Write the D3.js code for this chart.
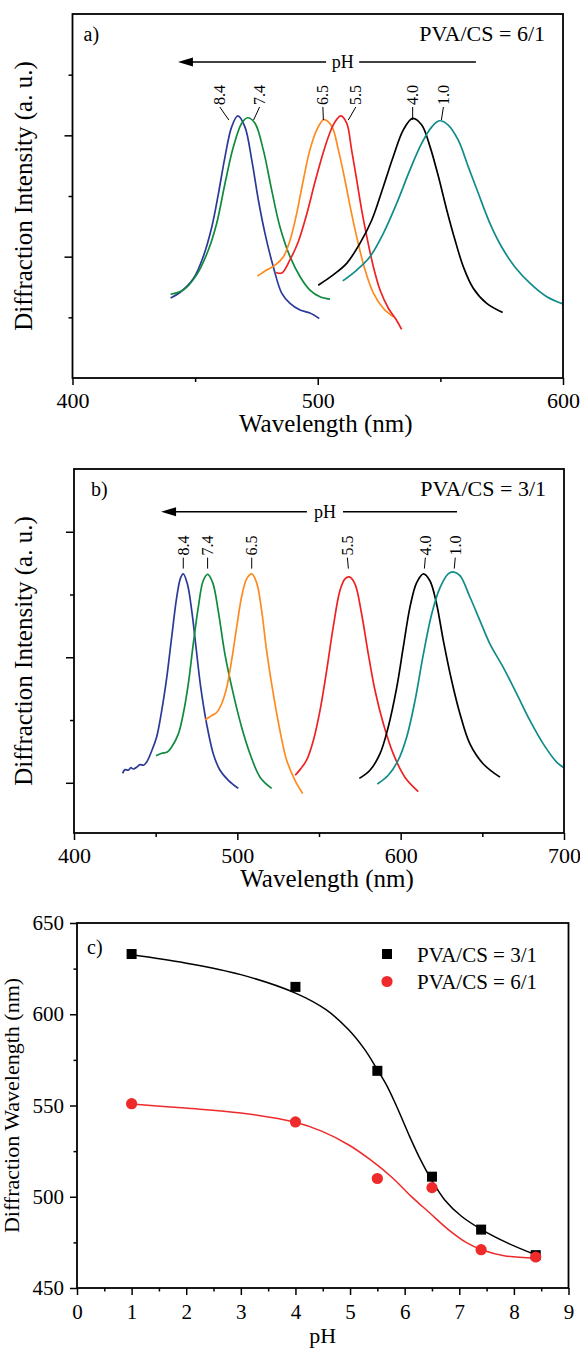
<!DOCTYPE html>
<html>
<head>
<meta charset="utf-8">
<script src="https://cdn.jsdelivr.net/npm/d3@7"></script>
<style>
  body { margin: 0; background: #fff; }
  svg { display: block; }
  text { font-family: "Liberation Serif", "Times New Roman", serif; fill: #000; }
</style>
</head>
<body>
<svg id="chart" width="580" height="1350"></svg>
<script>
// pH labels, same order as the spectra below
const phLabels = ["8.4", "7.4", "6.5", "5.5", "4.0", "1.0"];

// panel a: PVA/CS = 6/1, [wavelength nm, intensity a.u.]
const a84 = [[440.0,1.32],[443.8,1.41],[449.3,1.64],[453.3,2.0],[456.8,2.49],[459.5,3.04],[462.2,3.65],[464.9,4.14],[467.4,4.32],[470.3,4.14],[473.1,3.59],[475.8,2.93],[478.5,2.38],[481.9,1.83],[485.3,1.40],[488.7,1.23],[492.8,1.12],[496.8,1.07],[500.6,0.98]];
const a74 = [[440.0,1.38],[445.2,1.45],[450.6,1.70],[455.4,2.11],[458.8,2.55],[462.2,3.21],[465.6,3.81],[469.0,4.20],[471.4,4.29],[474.4,4.20],[477.8,3.76],[481.2,3.10],[484.6,2.49],[488.7,2.0],[492.8,1.67],[496.8,1.45],[500.9,1.34],[505.0,1.30]];
const a65 = [[475.4,1.68],[479.2,1.78],[482.6,1.86],[486.0,2.0],[488.7,2.27],[491.4,2.71],[494.1,3.26],[496.8,3.76],[499.6,4.09],[502.5,4.26],[505.7,4.15],[508.4,3.76],[511.1,3.26],[513.8,2.71],[516.5,2.22],[519.3,1.78],[522.7,1.40],[526.7,1.15],[530.8,1.01]];
const a55 = [[483.0,1.74],[485.3,1.73],[488.7,1.95],[492.1,2.25],[495.5,2.70],[499.0,3.25],[502.5,3.75],[505.5,4.10],[507.5,4.25],[509.4,4.32],[511.8,4.20],[513.8,3.76],[515.9,3.26],[517.9,2.77],[520.0,2.33],[522.7,1.83],[525.4,1.45],[528.8,1.15],[532.0,0.96],[534.2,0.80]];
const a40 = [[500.2,1.53],[506.3,1.70],[511.8,1.89],[517.2,2.22],[522.0,2.60],[526.7,3.15],[530.8,3.65],[534.9,4.09],[538.7,4.28],[542.4,4.17],[545.8,3.81],[549.2,3.32],[552.6,2.77],[556.0,2.27],[559.4,1.83],[563.4,1.48],[568.9,1.23],[575.4,1.08]];
const a10 = [[510.2,1.60],[515.9,1.78],[521.3,2.0],[526.7,2.38],[532.2,2.88],[537.6,3.43],[542.4,3.87],[546.5,4.14],[549.6,4.24],[553.2,4.17],[557.3,3.92],[561.4,3.48],[565.5,3.04],[570.2,2.55],[575.0,2.16],[580.4,1.83],[586.6,1.56],[593.4,1.34],[600.0,1.22]];

// panel b: PVA/CS = 3/1
const b84 = [[429.8,0.15],[431.2,0.21],[433.3,0.20],[434.7,0.24],[436.4,0.22],[438.4,0.25],[440.4,0.29],[442.5,0.28],[444.5,0.33],[447.6,0.51],[450.6,0.73],[453.7,1.15],[456.8,1.68],[459.8,2.32],[462.9,2.96],[465.3,3.27],[466.9,3.33],[469.4,3.17],[472.1,2.74],[474.7,2.16],[477.6,1.52],[481.2,0.94],[485.3,0.46],[489.4,0.20],[494.5,0.04],[500.6,-0.09]];
const b74 = [[450.2,0.43],[453.7,0.47],[457.1,0.49],[459.8,0.57],[463.9,0.78],[466.9,1.10],[470.0,1.58],[473.0,2.21],[476.1,2.80],[479.1,3.22],[481.8,3.32],[484.9,3.19],[488.3,2.74],[492.4,2.05],[497.5,1.42],[502.6,0.89],[507.8,0.46],[513.9,0.09],[521.0,-0.09]];
const b65 = [[480.2,1.0],[484.3,1.07],[487.3,1.12],[490.4,1.26],[493.5,1.52],[496.5,1.95],[499.6,2.48],[502.6,2.96],[505.7,3.25],[508.8,3.33],[511.8,3.19],[514.9,2.74],[517.9,2.11],[522.0,1.42],[526.1,0.83],[530.2,0.36],[535.3,0.04],[540.0,-0.17]];
const b55 = [[535.4,0.12],[538.4,0.21],[542.4,0.36],[546.5,0.67],[550.6,1.15],[554.7,1.79],[558.7,2.48],[562.8,3.06],[565.9,3.25],[568.6,3.28],[572.0,3.17],[576.1,2.69],[580.2,2.05],[584.3,1.47],[589.4,0.94],[595.5,0.46],[602.6,0.09],[610.8,-0.14]];
const b40 = [[574.7,0.07],[581.2,0.20],[587.3,0.46],[592.4,0.89],[597.6,1.52],[601.6,2.16],[605.7,2.80],[609.8,3.19],[613.9,3.33],[617.9,3.22],[622.0,2.85],[626.1,2.27],[631.2,1.63],[636.3,1.10],[642.4,0.62],[650.6,0.30],[660.8,0.09]];
const b10 = [[585.7,-0.02],[592.4,0.12],[598.5,0.36],[603.7,0.73],[608.8,1.31],[613.9,2.05],[619.0,2.69],[624.1,3.11],[629.1,3.33],[632.2,3.36],[636.3,3.30],[642.4,2.96],[648.6,2.58],[654.7,2.21],[662.8,1.84],[671.0,1.42],[679.2,0.99],[687.3,0.62],[695.5,0.33],[700.0,0.24]];

// panel c: peak wavelength vs pH
const phValues = [1, 4, 5.5, 6.5, 7.4, 8.4];
const peak31 = [633, 615, 569, 511, 482, 468];
const peak61 = [551, 541, 510, 505, 471, 467];
// fitted curves, [pH, nm]
const fit31 = [[1.0,632.6],[1.98,628.1],[3.0,621.7],[4.0,611.6],[4.56,602.5],[4.97,591.6],[5.27,580.6],[5.5,569.6],[5.68,560.5],[5.88,547.7],[6.09,533.1],[6.29,520.3],[6.49,509.3],[6.73,498.4],[7.04,489.3],[7.41,482.0],[7.88,474.7],[8.39,468.3]];
const fit61 = [[1.0,550.8],[1.98,548.6],[3.0,545.9],[4.0,540.8],[4.49,535.8],[4.97,528.5],[5.37,520.3],[5.78,510.3],[6.12,500.2],[6.46,491.1],[6.8,482.0],[7.14,474.7],[7.41,471.0],[7.82,467.7],[8.39,466.4]];
const legendLabels = ["PVA/CS = 3/1", "PVA/CS = 6/1"];

// colours of the six spectra
const specColors = ["#2b3a98", "#0f8a3e", "#ff8a1e", "#ee2222", "#000000", "#0f8c8a"];

const svg = d3.select("#chart");

// draws frame + ticks for a spectrum panel
function spectrumPanel(cfg) {
    const x = d3.scaleLinear().domain(cfg.xDomain).range([cfg.left, cfg.right]);
    const y = d3.scaleLinear().domain(cfg.yDomain).range([cfg.bottom, cfg.top]);
    const g = svg.append("g");

    // x axis: major ticks with labels, minor ticks without
    g.append("g")
        .attr("transform", `translate(0, ${cfg.bottom})`)
        .call(d3.axisBottom(x).tickValues(cfg.xMinor).tickSize(4).tickFormat(""))
        .call(s => s.select(".domain").remove());
    g.append("g")
        .attr("transform", `translate(0, ${cfg.bottom})`)
        .call(d3.axisBottom(x).tickValues(cfg.xMajor).tickSize(7).tickPadding(7).tickFormat(d3.format("d")))
        .call(s => s.select(".domain").remove())
        .selectAll("text").style("font-size", "22px").style("font-family", "Liberation Serif");

    // y axis, no labels
    g.append("g")
        .attr("transform", `translate(${cfg.left}, 0)`)
        .call(d3.axisLeft(y).tickValues(cfg.yMinor).tickSize(4).tickFormat(""))
        .call(s => s.select(".domain").remove());
    g.append("g")
        .attr("transform", `translate(${cfg.left}, 0)`)
        .call(d3.axisLeft(y).tickValues(cfg.yMajor).tickSize(8).tickFormat(""))
        .call(s => s.select(".domain").remove());
    g.selectAll(".tick line").attr("stroke", "#000").attr("stroke-width", 1.5);

    // spectra
    const line = d3.line()
        .x(d => x(d[0]))
        .y(d => y(d[1]))
        .curve(d3.curveCatmullRom.alpha(0.5));
    g.append("defs").append("clipPath").attr("id", "clip" + cfg.name)
        .append("rect")
        .attr("x", cfg.left).attr("y", cfg.top)
        .attr("width", cfg.right - cfg.left).attr("height", cfg.bottom - cfg.top);
    g.append("g")
        .attr("clip-path", `url(#clip${cfg.name})`)
        .selectAll("path")
        .data(cfg.series)
        .enter()
        .append("path")
        .attr("d", d => line(d))
        .attr("fill", "none")
        .attr("stroke", (d, i) => specColors[i])
        .attr("stroke-width", 1.7);

    // pH labels above the peaks
    const ly = y(cfg.labelLevel);
    cfg.series.forEach((s, i) => {
        const pk = d3.greatest(s, d => d[1]);
        const px = x(pk[0]);
        const lx = px + cfg.labelShift[i];
        g.append("line")
            .attr("x1", lx).attr("y1", ly + 2)
            .attr("x2", lx + (px - lx) * 0.5).attr("y2", ly + cfg.leaderLen)
            .attr("stroke", "#000").attr("stroke-width", 1);
        g.append("text")
            .attr("transform", `translate(${lx}, ${ly}) rotate(-90)`)
            .attr("dominant-baseline", "central")
            .style("font-size", "16px")
            .text(phLabels[i]);
    });

    // pH arrow
    const ay = y(cfg.arrow.level);
    const tipX = x(cfg.arrow.tip);
    g.append("line")
        .attr("x1", tipX + 12).attr("x2", x(cfg.arrow.gap[0]))
        .attr("y1", ay).attr("y2", ay)
        .attr("stroke", "#000").attr("stroke-width", 1.6);
    g.append("line")
        .attr("x1", x(cfg.arrow.gap[1])).attr("x2", x(cfg.arrow.tail))
        .attr("y1", ay).attr("y2", ay)
        .attr("stroke", "#000").attr("stroke-width", 1.6);
    g.append("path")
        .attr("d", `M${tipX},${ay} L${tipX + 15},${ay - 4.5} L${tipX + 15},${ay + 4.5} Z`)
        .attr("fill", "#000");
    g.append("text")
        .attr("x", x((cfg.arrow.gap[0] + cfg.arrow.gap[1]) / 2))
        .attr("y", ay)
        .attr("text-anchor", "middle")
        .attr("dominant-baseline", "central")
        .style("font-size", "18px")
        .text("pH");

    // frame
    g.append("rect")
        .attr("x", cfg.left).attr("y", cfg.top)
        .attr("width", cfg.right - cfg.left).attr("height", cfg.bottom - cfg.top)
        .attr("fill", "none").attr("stroke", "#000").attr("stroke-width", 1.8);

    // panel letter and ratio
    g.append("text").attr("x", cfg.left + cfg.letterDx).attr("y", cfg.top + 27)
        .style("font-size", "20px").text(cfg.letter);
    g.append("text").attr("x", cfg.right - 18).attr("y", cfg.top + 27)
        .attr("text-anchor", "end").style("font-size", "22px").text(cfg.ratio);

    // axis titles
    g.append("text")
        .attr("x", (cfg.left + cfg.right) / 2 + 8).attr("y", cfg.bottom + 54)
        .attr("text-anchor", "middle").style("font-size", "25px")
        .text("Wavelength (nm)");
    g.append("text")
        .attr("transform", `translate(32, ${(cfg.top + cfg.bottom) / 2}) rotate(-90)`)
        .attr("text-anchor", "middle").style("font-size", "25px")
        .text("Diffraction Intensity (a. u.)");
}

spectrumPanel({
    name: "a", letter: "a)", letterDx: 11, ratio: "PVA/CS = 6/1",
    left: 72.5, right: 563, top: 14, bottom: 378,
    xDomain: [400, 600], yDomain: [0, 6],
    xMajor: [400, 500, 600], xMinor: [450, 550],
    yMajor: [2, 4], yMinor: [1, 3, 5],
    series: [a84, a74, a65, a55, a40, a10],
    labelLevel: 4.5, labelShift: [-18, 12, -1, 15, 0, 4], leaderLen: 15,
    arrow: { level: 5.21, tip: 443, tail: 564.5, gap: [503.4, 516.9] }
});

spectrumPanel({
    name: "b", letter: "b)", letterDx: 17, ratio: "PVA/CS = 3/1",
    left: 74, right: 564, top: 469, bottom: 833,
    xDomain: [400, 700], yDomain: [-0.8, 5],
    xMajor: [400, 500, 600, 700], xMinor: [450, 550, 650],
    yMajor: [0, 2, 4], yMinor: [1, 3],
    series: [b84, b74, b65, b55, b40, b10],
    labelLevel: 3.62, labelShift: [0, 0, 0, -2, 2, 2], leaderLen: 13,
    arrow: { level: 4.32, tip: 453.3, tail: 634.5, gap: [542.6, 564.7] }
});

// ---- panel c ----
const mC = { left: 77, right: 568.5, top: 923, bottom: 1288 };
const xC = d3.scaleLinear().domain([0, 9]).range([mC.left, mC.right]);
const yC = d3.scaleLinear().domain([450, 650]).range([mC.bottom, mC.top]);
const gC = svg.append("g");

gC.append("g")
    .attr("transform", `translate(0, ${mC.bottom})`)
    .call(d3.axisBottom(xC).tickValues(d3.range(0.5, 9, 1)).tickSize(3.5).tickFormat(""))
    .call(s => s.select(".domain").remove());
gC.append("g")
    .attr("transform", `translate(0, ${mC.bottom})`)
    .call(d3.axisBottom(xC).tickValues(d3.range(0, 10, 1)).tickSize(7).tickPadding(9).tickFormat(d3.format("d")))
    .call(s => s.select(".domain").remove())
    .selectAll("text").style("font-size", "21px").style("font-family", "Liberation Serif");
gC.append("g")
    .attr("transform", `translate(${mC.left}, 0)`)
    .call(d3.axisLeft(yC).tickValues([475, 525, 575, 625]).tickSize(3.5).tickFormat(""))
    .call(s => s.select(".domain").remove());
gC.append("g")
    .attr("transform", `translate(${mC.left}, 0)`)
    .call(d3.axisLeft(yC).tickValues([450, 500, 550, 600, 650]).tickSize(7).tickPadding(6).tickFormat(d3.format("d")))
    .call(s => s.select(".domain").remove())
    .selectAll("text").style("font-size", "21px").style("font-family", "Liberation Serif");
gC.selectAll(".tick line").attr("stroke", "#000").attr("stroke-width", 1.5);

const fitLine = d3.line()
    .x(d => xC(d[0]))
    .y(d => yC(d[1]))
    .curve(d3.curveCatmullRom.alpha(0.5));
gC.append("path").attr("d", fitLine(fit31))
    .attr("fill", "none").attr("stroke", "#000").attr("stroke-width", 1.5);
gC.append("path").attr("d", fitLine(fit61))
    .attr("fill", "none").attr("stroke", "#ee2a2a").attr("stroke-width", 1.5);

const sq = 10;
gC.selectAll(".sq")
    .data(phValues)
    .enter()
    .append("rect")
    .attr("x", (d, i) => xC(d) - sq / 2)
    .attr("y", (d, i) => yC(peak31[i]) - sq / 2)
    .attr("width", sq).attr("height", sq)
    .attr("fill", "#000");
gC.selectAll(".dot")
    .data(phValues)
    .enter()
    .append("circle")
    .attr("cx", d => xC(d))
    .attr("cy", (d, i) => yC(peak61[i]))
    .attr("r", 5.6)
    .attr("fill", "#ee2a2a");

gC.append("rect")
    .attr("x", mC.left).attr("y", mC.top)
    .attr("width", mC.right - mC.left).attr("height", mC.bottom - mC.top)
    .attr("fill", "none").attr("stroke", "#000").attr("stroke-width", 1.8);

// legend
gC.append("rect").attr("x", 387 - sq / 2).attr("y", 954 - sq / 2)
    .attr("width", sq).attr("height", sq).attr("fill", "#000");
gC.append("circle").attr("cx", 387).attr("cy", 981.5).attr("r", 5.6).attr("fill", "#ee2a2a");
legendLabels.forEach((t, i) => {
    gC.append("text").attr("x", 417).attr("y", 961.5 + i * 27)
        .style("font-size", "21px").text(t);
});

gC.append("text").attr("x", 87).attr("y", 954).style("font-size", "20px").text("c)");
gC.append("text")
    .attr("x", (mC.left + mC.right) / 2).attr("y", 1343)
    .attr("text-anchor", "middle").style("font-size", "22px")
    .text("pH");
gC.append("text")
    .attr("transform", `translate(19, ${(mC.top + mC.bottom) / 2}) rotate(-90)`)
    .attr("text-anchor", "middle").style("font-size", "22px")
    .text("Diffraction Wavelength (nm)");
</script>
</body>
</html>
